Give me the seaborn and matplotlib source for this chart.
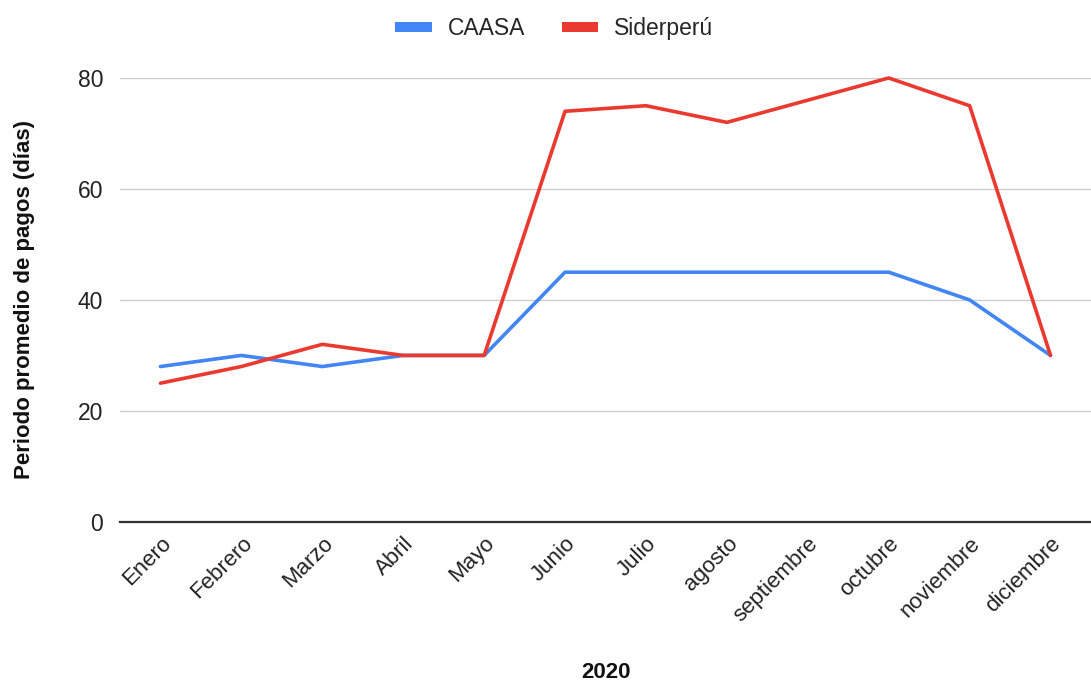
import matplotlib
matplotlib.use("Agg")
import matplotlib.pyplot as plt
import seaborn as sns
import pandas as pd

months = ["Enero", "Febrero", "Marzo", "Abril", "Mayo", "Junio", "Julio",
          "agosto", "septiembre", "octubre", "noviembre", "diciembre"]
caasa = [28, 30, 28, 30, 30, 45, 45, 45, 45, 45, 40, 30]
siderperu = [25, 28, 32, 30, 30, 74, 75, 72, 76, 80, 75, 30]
series_names = ["CAASA", "Siderperú"]
colors = ["#4285F4", "#EA3A30"]
yticks = [0, 20, 40, 60, 80]

sns.set_theme(style="white")
plt.rcParams['font.family'] = ['Liberation Sans', 'DejaVu Sans']

df = pd.DataFrame({
    "mes": months * 2,
    "valor": caasa + siderperu,
    "serie": [series_names[0]] * len(months) + [series_names[1]] * len(months),
})
df["x"] = list(range(len(months))) * 2

fig = plt.figure(figsize=(10.91, 6.84), dpi=100)
ax = fig.add_axes([0.110, 0.237, 0.890, 0.649])

sns.lineplot(data=df, x="x", y="valor", hue="serie", palette=colors,
             linewidth=2.6, ax=ax, legend=False, clip_on=False, sort=False)

ax.set_xlim(-0.5, len(months) - 0.5)
ax.set_ylim(0, 80)
ax.set_yticks(yticks)
ax.set_yticklabels([str(t) for t in yticks], fontsize=16.5, color="#222222")
ax.set_xticks(range(len(months)))
ax.set_xticklabels(months, rotation=45, ha="right", rotation_mode="anchor",
                   fontsize=16, color="#222222")
ax.tick_params(axis="x", pad=8, length=0)
ax.tick_params(axis="y", pad=12, length=0)
ax.grid(axis="y", color="#CCCCCC", linewidth=1)
ax.grid(axis="x", visible=False)
for s in ["top", "right", "left"]:
    ax.spines[s].set_visible(False)
ax.spines["bottom"].set_color("#333333")
ax.spines["bottom"].set_linewidth(1.6)
ax.set_axisbelow(True)

ax.set_xlabel("2020", fontsize=16, fontweight="bold", color="#111111")
ax.xaxis.set_label_coords(0.5, -0.315)
ax.set_ylabel("Periodo promedio de pagos (días)", fontsize=16, fontweight="bold",
              color="#111111")
ax.yaxis.set_label_coords(-0.088, 0.5)

from matplotlib.patches import Patch
handles = [Patch(facecolor=c, edgecolor="none") for c in colors]
fig.legend(handles, series_names, loc="center", bbox_to_anchor=(0.508, 0.958),
           ncol=2, frameon=False, fontsize=16.5, handlelength=1.6, handleheight=0.3,
           columnspacing=1.6, handletextpad=0.7)

fig.savefig("out.png", dpi=100)
